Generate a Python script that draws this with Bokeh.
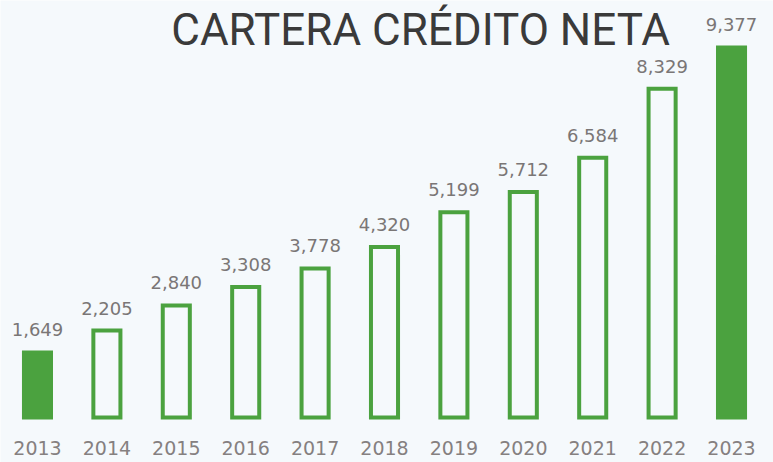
from bokeh.plotting import figure
from bokeh.models import ColumnDataSource, Range1d
from bokeh.core.properties import value
from bokeh.embed import file_html
from bokeh.resources import INLINE

years = ["2013", "2014", "2015", "2016", "2017", "2018", "2019", "2020", "2021", "2022", "2023"]
values = [1649, 2205, 2840, 3308, 3778, 4320, 5199, 5712, 6584, 8329, 9377]
filled = [True, False, False, False, False, False, False, False, False, False, True]
title_text = "CARTERA CRÉDITO NETA"

GREEN = "#4ba23f"
BG = "#f5f9fc"

xs = list(range(len(years)))
src = ColumnDataSource(dict(
    x=xs,
    top=values,
    year=years,
    label=[f"{v:,}" for v in values],
    fill=[GREEN if f else BG for f in filled],
    zero=[0] * len(values),
))

W, H = 773, 462
p = figure(width=W, height=H, output_backend="svg", toolbar_location=None,
           x_range=Range1d(-0.533, 10.605), y_range=Range1d(-1140, 10568),
           min_border=0, min_border_left=0, min_border_right=0,
           min_border_top=0, min_border_bottom=0)
p.background_fill_color = BG
p.border_fill_color = BG
p.outline_line_color = None
p.grid.visible = False
p.axis.visible = False

p.vbar(x="x", top="top", bottom=0, width=0.39, source=src,
       fill_color="fill", line_color=GREEN, line_width=4, line_join="miter")

p.text(x="x", y="top", text="label", source=src, text_align="center",
       text_baseline="bottom", y_offset=-16, text_font=value("DejaVu Sans"),
       text_font_size="18px", text_color="#7a7676")

p.text(x="x", y="zero", text="year", source=src, text_align="center",
       text_baseline="bottom", y_offset=37, text_font=value("DejaVu Sans"),
       text_font_size="19px", text_color="#858080")

p.text(x=[5.52], y=[10490], text=[title_text], text_align="center",
       text_baseline="top", text_font=value("Roboto"),
       text_font_size="44px", text_color="#3a3a3a")

open("out.html", "w").write(file_html(p, INLINE))
